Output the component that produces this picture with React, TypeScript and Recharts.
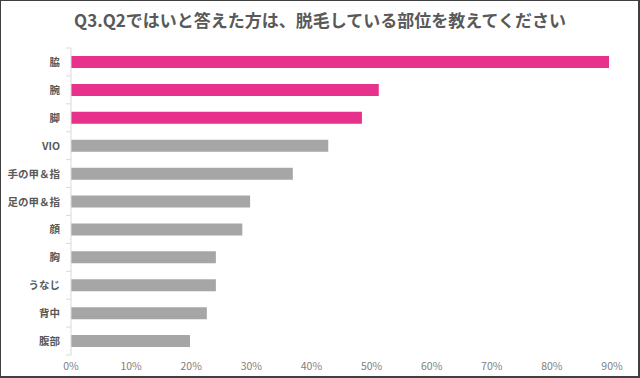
import React from 'react';
import { BarChart, Bar, XAxis, YAxis, Cell } from 'recharts';

const title = 'Q3.Q2ではいと答えた方は、脱毛している部位を教えてください';
const categories = ['脇', '腕', '脚', 'VIO', '手の甲＆指', '足の甲＆指', '顔', '胸', 'うなじ', '背中', '腹部'];
const values = [0.895, 0.512, 0.484, 0.428, 0.369, 0.298, 0.285, 0.241, 0.241, 0.226, 0.198];
const highlighted = ['脇', '腕', '脚'];
const xTicks = [0, 0.1, 0.2, 0.3, 0.4, 0.5, 0.6, 0.7, 0.8, 0.9];

const data = categories.map((c, i) => ({ name: c, value: values[i] }));

const FONT = '"Noto Sans CJK JP", "Noto Sans", sans-serif';
const PINK = '#E8318A';
const GRAY = '#A6A6A6';

const YTick = (props: any) => {
  const { x, y, payload, index } = props;
  const half = 307 / categories.length / 2;
  return (
    <g>
      <line x1={x + 3} x2={x + 8} y1={y - half} y2={y - half} stroke="#d9d9d9" />
      {index === categories.length - 1 && (
        <line x1={x + 3} x2={x + 8} y1={y + half} y2={y + half} stroke="#d9d9d9" />
      )}
      <text x={x - 3} y={y} dy={4} textAnchor="end" fill="#595959" fontSize={10.5} fontWeight={700} fontFamily={FONT}>
        {payload.value}
      </text>
    </g>
  );
};

export default function App() {
  return (
    <div style={{ position: 'absolute', left: 0, top: 0, width: 640, height: 378, background: '#fff', fontFamily: FONT }}>
      <div
        style={{
          position: 'absolute', left: 0, top: 7, width: 640, textAlign: 'center',
          fontSize: 17, fontWeight: 700, color: '#595959', fontFamily: FONT, lineHeight: '26px',
        }}
      >
        {title}
      </div>
      <div style={{ position: 'absolute', left: 0, top: 0 }}>
        <BarChart
          width={640}
          height={378}
          data={data}
          layout="vertical"
          margin={{ top: 48, right: 28, bottom: 0, left: 0 }}
          barCategoryGap={0}
        >
          <XAxis
            type="number"
            domain={[0, 0.9]}
            ticks={xTicks}
            tickFormatter={(v: number) => `${Math.round(v * 100)}%`}
            axisLine={false}
            tickLine={false}
            height={23}
            tick={{ fill: '#808080', fontSize: 10.5, fontFamily: FONT }}
            interval={0}
          />
          <YAxis
            type="category"
            dataKey="name"
            width={71}
            axisLine={{ stroke: '#d9d9d9' }}
            tickLine={false}
            tick={<YTick />}
            interval={0}
          />
          <Bar dataKey="value" barSize={12} isAnimationActive={false}>
            {data.map((d) => (
              <Cell key={d.name} fill={highlighted.includes(d.name) ? PINK : GRAY} />
            ))}
          </Bar>
        </BarChart>
      </div>
      <div
        style={{
          position: 'absolute', left: 0, top: 0, width: 640, height: 378, boxSizing: 'border-box',
          border: '1px solid #404040', borderRight: '2px solid #404040', borderBottom: '2px solid #404040', pointerEvents: 'none',
        }}
      />
    </div>
  );
}
